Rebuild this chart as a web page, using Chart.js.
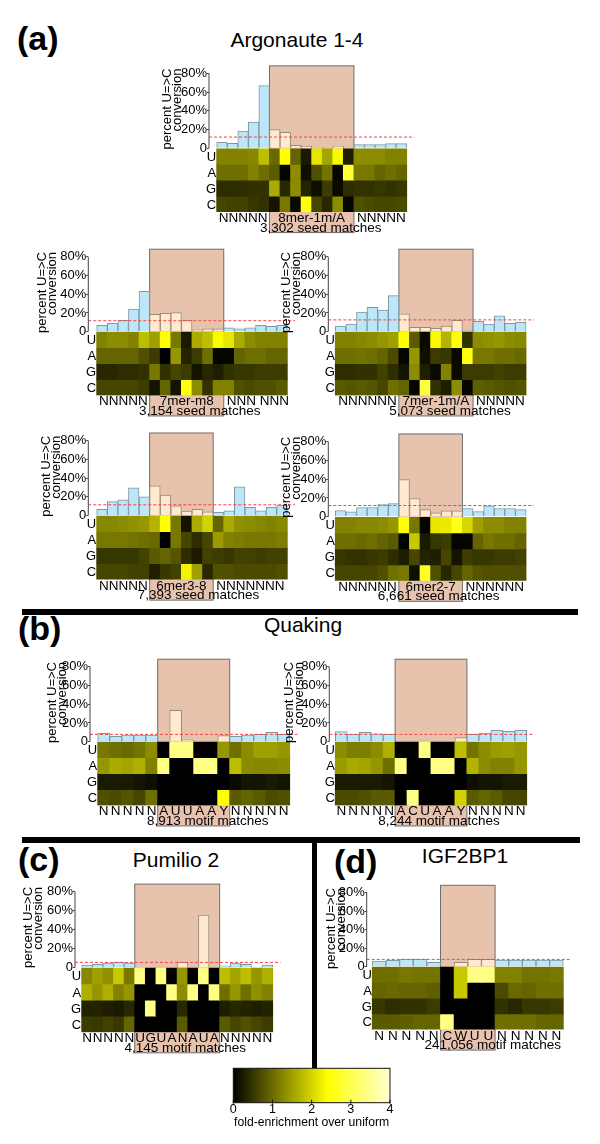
<!DOCTYPE html>
<html>
<head>
<meta charset="utf-8">
<script src="https://cdn.jsdelivr.net/npm/chart.js@4.4.1/dist/chart.umd.min.js"></script>
<style>
  html, body { margin: 0; padding: 0; background: #fff; }
  #page { position: relative; width: 600px; height: 1144px; overflow: hidden;
          font-family: "Liberation Sans", Arial, sans-serif; }
  #page canvas { position: absolute; }
  .t { position: absolute; white-space: nowrap; line-height: 1; color: #000; }
  .tag { font-weight: bold; font-size: 34px; }
  .title { font-size: 21px; width: 300px; text-align: center; }
  .rule { position: absolute; background: #000; }
</style>
</head>
<body>
<div id="page">
  <div class="t tag" style="left:17px;top:21px">(a)</div>
  <div class="t title" style="left:147px;top:29px">Argonaute 1-4</div>
  <div class="rule" style="left:22px;top:609px;width:556px;height:6px"></div>
  <div class="t tag" style="left:18px;top:611px">(b)</div>
  <div class="t title" style="left:153px;top:614px">Quaking</div>
  <div class="rule" style="left:22px;top:837px;width:558px;height:6px"></div>
  <div class="rule" style="left:312px;top:843px;width:5px;height:225px"></div>
  <div class="t tag" style="left:18px;top:842px">(c)</div>
  <div class="t title" style="left:26px;top:849px">Pumilio 2</div>
  <div class="t tag" style="left:334px;top:844px">(d)</div>
  <div class="t title" style="left:315px;top:845px">IGF2BP1</div>
</div>
<script>
// ---- data ----
const ROWS = ['U', 'A', 'G', 'C'];
const Y_TICKS = [0, 20, 40, 60, 80];
const CB_TICKS = [0, 1, 2, 3, 4];

// Argonaute 8mer-1m/A
const ago8merBars = [6.4, 5.3, 18.5, 28, 67, 20, 17, 3.2, 2.1, 1, 1, 2.5, 1, 4, 4, 4, 5, 5];
const ago8merHeat = [
  [1.22, 1.22, 1.22, 1.27, 1.79, 0.99, 2.4, 0.94, 0.24, 2.16, 1.55, 2.35, 0.28, 1.32, 1.32, 1.32, 1.22, 1.22],
  [1.04, 1.04, 1.04, 1.22, 1.04, 0.85, 0.05, 1.32, 0.14, 0.75, 1.08, 0.05, 2.8, 1.13, 1.13, 0.94, 1.04, 0.94],
  [0.42, 0.42, 0.42, 0.47, 0.47, 1.6, 0.38, 1.32, 0.33, 0.14, 0.56, 0.09, 0.42, 0.47, 0.47, 0.52, 0.47, 0.52],
  [0.66, 0.61, 0.61, 0.52, 0.47, 0.19, 1.13, 0.09, 2.5, 0.66, 0.38, 1.32, 0.05, 0.75, 0.71, 0.66, 0.66, 0.71]
];
const ago8merSeed = [5, 13];
const ago8merText = ['NNNNN', '8mer-1m/A', 'NNNNN'];
const ago8merCount = '3,302 seed matches';
const ago8merThreshold = 12;

// Argonaute 7mer-m8
const ago7m8Bars = [6.8, 8.9, 12, 24, 43, 18.5, 19.6, 20.3, 12, 2, 3, 3, 4, 3, 4, 6.8, 5.7, 6.8];
const ago7m8Heat = [
  [1.22, 1.32, 1.32, 1.22, 1.79, 1.5, 2.4, 1.13, 0.24, 1.6, 1.79, 2.35, 2.16, 1.6, 1.32, 1.22, 1.22, 1.22],
  [0.94, 0.94, 0.94, 0.94, 0.75, 0.56, 0, 1.41, 0.33, 0.56, 1.04, 0.05, 0.05, 0.94, 1.04, 1.04, 0.94, 0.94],
  [0.38, 0.38, 0.42, 0.42, 0.47, 1.13, 0.47, 0.66, 0.56, 0.19, 0.38, 0.28, 0.47, 0.52, 0.52, 0.56, 0.56, 0.56],
  [0.66, 0.66, 0.66, 0.66, 0.56, 0.19, 0.94, 0.19, 2.5, 1.32, 0.47, 1.22, 1.22, 0.75, 0.71, 0.75, 0.75, 0.85]
];
const ago7m8Seed = [5, 12];
const ago7m8Text = ['NNNNN', '7mer-m8', 'NNN NNN'];
const ago7m8Count = '3,154 seed matches';
const ago7m8Threshold = 11.7;

// Argonaute 7mer-1m/A
const ago7a1Bars = [6, 8, 21, 26, 23, 38.5, 19, 4.7, 4.7, 3.6, 6, 12, 1.4, 11, 8, 17, 9, 10];
const ago7a1Heat = [
  [1.22, 1.22, 1.27, 1.32, 1.41, 1.5, 2.4, 0.85, 0.09, 2.35, 1.69, 2.4, 0.47, 1.32, 1.36, 1.41, 1.32, 1.27],
  [1.04, 1.04, 1.08, 1.04, 0.94, 0.71, 0.05, 1.41, 0.14, 0.56, 0.52, 0.09, 2.5, 1.13, 1.13, 1.04, 1.04, 0.99],
  [0.42, 0.42, 0.47, 0.47, 0.61, 0.42, 0.19, 1.32, 0.28, 0.09, 1.22, 0.09, 0.56, 0.56, 0.56, 0.61, 0.56, 0.56],
  [0.85, 0.8, 0.85, 0.8, 0.66, 1.04, 0.94, 0.05, 2.9, 0.47, 0.28, 1.32, 0.05, 0.89, 0.85, 0.8, 0.75, 0.8]
];
const ago7a1Seed = [6, 13];
const ago7a1Text = ['NNNNNN', '7mer-1m/A', 'NNNNN'];
const ago7a1Count = '5,073 seed matches';
const ago7a1Threshold = 12.6;

// Argonaute 6mer3-8
const ago6m38Bars = [6.7, 15, 17, 29.6, 20, 31.7, 22, 10.6, 4.9, 6.7, 4.2, 3.5, 5.3, 30.6, 8.8, 5.3, 8.8, 11.3];
const ago6m38Heat = [
  [1.27, 1.27, 1.32, 1.36, 1.41, 1.69, 2.4, 1.13, 0.19, 1.6, 1.98, 0.94, 1.6, 1.36, 1.32, 1.27, 1.22, 1.27],
  [1.13, 1.13, 1.13, 1.08, 1.04, 0.99, 0, 1.13, 0.66, 0.42, 0.66, 1.46, 1.22, 1.18, 1.13, 1.13, 1.13, 1.18],
  [0.52, 0.52, 0.52, 0.52, 0.61, 0.85, 0.94, 0.8, 0.42, 0.24, 0.61, 0.56, 0.52, 0.61, 0.61, 0.56, 0.61, 0.61],
  [0.66, 0.66, 0.66, 0.61, 0.61, 0.28, 0.52, 0.61, 2.3, 1.5, 0.38, 0.75, 0.75, 0.71, 0.71, 0.71, 0.71, 0.75]
];
const ago6m38Seed = [5, 11];
const ago6m38Text = ['NNNNN', '6mer3-8', 'NNNNNNN'];
const ago6m38Count = '7,393 seed matches';
const ago6m38Threshold = 11.6;

// Argonaute 6mer2-7
const ago6m27Bars = [6.7, 5.3, 9.9, 9.9, 13, 14, 39.5, 19.4, 7.7, 4.2, 6.3, 6.3, 8.8, 5.6, 11.6, 8.8, 8.8, 7.7];
const ago6m27Heat = [
  [1.22, 1.22, 1.27, 1.27, 1.32, 1.41, 2.4, 1.13, 0.05, 2.16, 2.21, 2.6, 2.02, 1.5, 1.32, 1.32, 1.22, 1.22],
  [1.04, 1.04, 0.99, 1.04, 0.94, 0.85, 0.05, 1.88, 0.24, 0.52, 0.56, 0.05, 0.05, 0.94, 1.13, 1.04, 1.04, 0.94],
  [0.52, 0.47, 0.47, 0.52, 0.56, 0.42, 0.28, 0.66, 0.33, 0.28, 0.66, 0.19, 0.56, 0.52, 0.52, 0.56, 0.56, 0.61],
  [0.66, 0.66, 0.66, 0.66, 0.75, 1.04, 1.13, 0.14, 2.7, 0.75, 0.38, 0.66, 0.94, 0.8, 0.75, 0.75, 0.75, 0.75]
];
const ago6m27Seed = [6, 12];
const ago6m27Text = ['NNNNNN', '6mer2-7', 'NNNNNN'];
const ago6m27Count = '6,661 seed matches';
const ago6m27Threshold = 12;

// Quaking
const qkiLeftBars = [8.9, 5.7, 7, 7, 7, null, 33.5, 2, null, null, 6.4, 5.7, 7, 7.8, 10, 7.8];
const qkiLeftHeat = [
  [1.13, 1.04, 0.99, 1.08, 1.32, 0, 3.4, 3.4, 0, 0, 1.41, 1.04, 1.32, 1.5, 1.5, 1.41],
  [1.41, 1.6, 1.55, 1.65, 1.22, 3.4, 0, 0, 3.4, 3.4, 0, 1.79, 1.32, 1.27, 1.27, 1.32],
  [0.24, 0.24, 0.24, 0.19, 0.14, 0, 0, 0, 0, 0, 0, 0.09, 0.19, 0.19, 0.24, 0.19],
  [0.75, 0.71, 0.8, 0.66, 1.04, 0, 0, 0, 0, 0, 2.4, 0.85, 0.94, 0.85, 0.71, 0.75]
];
const qkiLeftSeed = [5, 11];
const qkiLeftLetters = ['N', 'N', 'N', 'N', 'N', 'A', 'U', 'U', 'A', 'A', 'Y', 'N', 'N', 'N', 'N', 'N'];
const qkiLeftCount = '8,913 motif matches';
const qkiLeftThreshold = 7.8;

const qkiRightBars = [10.7, 7.8, 10, 8.5, 7.8, null, null, 1, null, null, 4.3, 7.8, 9.3, 12, 11, 12];
const qkiRightHeat = [
  [1.32, 1.18, 1.18, 1.32, 1.65, 0, 0, 3.4, 0, 0, 1.79, 1.08, 1.32, 1.46, 1.5, 1.41],
  [1.46, 1.6, 1.55, 1.41, 1.04, 3.4, 0, 0, 3.4, 3.4, 0, 1.69, 1.32, 1.22, 1.22, 1.41],
  [0.24, 0.24, 0.24, 0.24, 0.19, 0, 0, 0, 0, 0, 0, 0.14, 0.19, 0.19, 0.24, 0.24],
  [0.71, 0.71, 0.75, 0.85, 0.85, 0, 3.4, 0, 0, 0, 1.98, 0.85, 0.94, 0.85, 0.66, 0.66]
];
const qkiRightSeed = [5, 11];
const qkiRightLetters = ['N', 'N', 'N', 'N', 'N', 'A', 'C', 'U', 'A', 'A', 'Y', 'N', 'N', 'N', 'N', 'N'];
const qkiRightCount = '8,244 motif matches';
const qkiRightThreshold = 7.8;

// Pumilio 2
const pumBars = [2.8, 3.5, 4.9, 5.6, 4.9, 0.5, null, 0.5, null, 5.6, null, 55.4, null, 2.1, 4.9, 3.5, 0.7, 2.8];
const pumHeat = [
  [1.27, 1.5, 1.36, 1.88, 1.13, 3.4, 0, 3.4, 0, 1.41, 0, 3.4, 0, 1.79, 1.55, 1.79, 1.41, 1.65],
  [1.65, 1.41, 1.65, 1.22, 1.41, 0, 0, 0, 3.4, 1.32, 3.4, 0, 3.4, 1.04, 1.41, 1.04, 1.36, 1.22],
  [0.33, 0.33, 0.28, 0.24, 0.38, 0, 3.4, 0, 0, 0.38, 0, 0, 0, 0.28, 0.38, 0.33, 0.28, 0.33],
  [0.56, 0.52, 0.61, 0.52, 0.94, 0, 0, 0, 0, 0.85, 0, 0, 0, 0.85, 0.66, 0.75, 0.66, 0.56]
];
const pumSeed = [5, 13];
const pumLetters = ['N', 'N', 'N', 'N', 'N', 'U', 'G', 'U', 'A', 'N', 'A', 'U', 'A', 'N', 'N', 'N', 'N', 'N'];
const pumCount = '4,145 motif matches';
const pumThreshold = 5.6;

// IGF2BP1
const igfBars = [6.1, 6.8, 8.3, 8.3, 4.7, null, 4.7, 7.9, 7.9, 7.2, 7.2, 7.2, 7.2, 7.2];
const igfHeat = [
  [1.04, 1.04, 1.13, 1.08, 1.08, 0, 1.88, 3.4, 3.4, 1.22, 1.22, 1.08, 1.08, 1.13],
  [0.94, 0.99, 0.94, 0.94, 0.89, 0, 1.88, 0, 0, 0.71, 0.99, 0.94, 1.04, 1.04],
  [0.52, 0.42, 0.47, 0.47, 0.56, 0, 0, 0, 0, 0.47, 0.38, 0.52, 0.52, 0.56],
  [0.85, 0.85, 0.89, 0.94, 0.94, 3.4, 0, 0, 0, 1.04, 1.04, 1.04, 0.94, 0.94]
];
const igfSeed = [5, 9];
const igfLetters = ['N', 'N', 'N', 'N', 'N', 'C', 'W', 'U', 'U', 'N', 'N', 'N', 'N', 'N'];
const igfCount = '241,056 motif matches';
const igfThreshold = 7.9;

// ---- style / layout ----
const FONT = '"Liberation Sans", Arial, sans-serif';
const BLUE = '#bde6f8', BLUE_EDGE = '#7d97a3';
const BEIGE = '#ffead0', BEIGE_EDGE = '#9b8a78';
const PINK = '#e7c3ae', PINK_EDGE = '#6e6e6e';
const Y_MAX = 85, Y_MIN = -68, ROW_H = 17, SEED_TOP = 88;
const EXT = 8, LABEL_DROP = 20.5;

Chart.defaults.font.family = FONT;
Chart.defaults.color = '#000';

function foldColor(v) {
  if (v <= 2.4) {
    const c = Math.round(255 * v / 2.4);
    return `rgb(${c},${c},0)`;
  }
  const b = Math.round(Math.min(1, (v - 2.4) / 1.6) * 210);
  return `rgb(255,255,${b})`;
}

const panels = [
  { bars: ago8merBars, heat: ago8merHeat, seed: ago8merSeed, groups: ago8merText, count: ago8merCount, thr: ago8merThreshold,
    axisX: 209, heatLeft: 216.7, heatRight: 406.7, y80: 73.3, y0: 148.3, W: 47.2, countDx: 9 },
  { bars: ago7m8Bars, heat: ago7m8Heat, seed: ago7m8Seed, groups: ago7m8Text, count: ago7m8Count, thr: ago7m8Threshold,
    axisX: 88.3, heatLeft: 96.7, heatRight: 287.3, y80: 256.7, y0: 331.7, W: 51.8, countDx: 13 },
  { bars: ago7a1Bars, heat: ago7a1Heat, seed: ago7a1Seed, groups: ago7a1Text, count: ago7a1Count, thr: ago7a1Threshold,
    axisX: 328.3, heatLeft: 335.3, heatRight: 526, y80: 256.7, y0: 331.7, W: 47.7, countDx: 14 },
  { bars: ago6m38Bars, heat: ago6m38Heat, seed: ago6m38Seed, groups: ago6m38Text, count: ago6m38Count, thr: ago6m38Threshold,
    axisX: 88.3, heatLeft: 96.7, heatRight: 287.3, y80: 440.5, y0: 515.7, W: 47.8, countDx: 17 },
  { bars: ago6m27Bars, heat: ago6m27Heat, seed: ago6m27Seed, groups: ago6m27Text, count: ago6m27Count, thr: ago6m27Threshold,
    axisX: 328.3, heatLeft: 335.3, heatRight: 526, y80: 441.5, y0: 516.8, W: 47.5, countDx: 8 },
  { bars: qkiLeftBars, heat: qkiLeftHeat, seed: qkiLeftSeed, letters: qkiLeftLetters, count: qkiLeftCount, thr: qkiLeftThreshold,
    axisX: 90, heatLeft: 97.7, heatRight: 289.7, y80: 666.7, y0: 741.7, W: 43.5, countDx: 14 },
  { bars: qkiRightBars, heat: qkiRightHeat, seed: qkiRightSeed, letters: qkiRightLetters, count: qkiRightCount, thr: qkiRightThreshold,
    axisX: 329.3, heatLeft: 335.3, heatRight: 526.7, y80: 666.7, y0: 741.7, W: 45.2, countDx: 8 },
  { bars: pumBars, heat: pumHeat, seed: pumSeed, letters: pumLetters, count: pumCount, thr: pumThreshold,
    axisX: 75, heatLeft: 81.7, heatRight: 272.7, y80: 891.7, y0: 967.7, W: 51.9, countDx: 8 },
  { bars: igfBars, heat: igfHeat, seed: igfSeed, letters: igfLetters, count: igfCount, thr: igfThreshold,
    axisX: 366.7, heatLeft: 372.3, heatRight: 563.3, y80: 892.7, y0: 966.7, W: 40.9, countDx: 25 }
];

const page = document.getElementById('page');

function makePanel(p) {
  const n = p.bars.length;
  const colW = (p.heatRight - p.heatLeft) / n;
  const xMin = -(p.heatLeft - p.axisX) / colW;
  const xMax = n + EXT / colW;
  const ppu = (p.y0 - p.y80) / 80;
  const chartTop = p.y0 - Y_MAX * ppu;
  const chartBottom = p.y0 - Y_MIN * ppu;
  const canvasTop = Math.floor(chartTop - 12);
  const canvasH = Math.ceil(chartBottom + 26) - canvasTop;
  const canvasLeft = Math.round(p.axisX - p.W);
  const yW = p.axisX - canvasLeft;
  const chartRight = p.heatRight + EXT;
  const canvasW = Math.ceil(chartRight + 4) - canvasLeft;

  const cv = document.createElement('canvas');
  cv.width = canvasW; cv.height = canvasH;
  cv.style.left = canvasLeft + 'px'; cv.style.top = canvasTop + 'px';
  cv.style.width = canvasW + 'px'; cv.style.height = canvasH + 'px';
  page.appendChild(cv);

  const inSeed = i => i >= p.seed[0] && i < p.seed[1];
  const datasets = [{
    type: 'line',
    data: [{ x: xMin, y: p.thr }, { x: xMax, y: p.thr }],
    borderColor: '#ff4040', borderWidth: 1, borderDash: [3, 2],
    pointRadius: 0, order: 1
  }, {
    data: p.bars.map((v, i) => ({ x: i + 0.5, y: v })),
    backgroundColor: p.bars.map((v, i) => inSeed(i) ? BEIGE : BLUE),
    borderColor: p.bars.map((v, i) => inSeed(i) ? BEIGE_EDGE : BLUE_EDGE),
    borderWidth: 1, grouped: false, barThickness: colW, order: 2
  }];
  ROWS.forEach((r, ri) => {
    datasets.push({
      data: p.heat[ri].map((v, i) => ({ x: i + 0.5, y: [-(ri + 1) * ROW_H, -ri * ROW_H] })),
      backgroundColor: p.heat[ri].map(foldColor),
      borderWidth: 0, grouped: false, barThickness: colW, inflateAmount: 0.4, order: 3
    });
  });

  const deco = {
    id: 'deco',
    beforeDatasetsDraw(chart) {
      const { ctx, scales: { x, y } } = chart;
      const x0 = x.getPixelForValue(p.seed[0]), x1 = x.getPixelForValue(p.seed[1]);
      const yT = y.getPixelForValue(SEED_TOP), yB = y.getPixelForValue(Y_MIN) + LABEL_DROP;
      ctx.save();
      ctx.fillStyle = PINK;
      ctx.fillRect(x0, yT, x1 - x0, yB - yT);
      ctx.strokeStyle = PINK_EDGE; ctx.lineWidth = 1;
      ctx.strokeRect(x0, yT, x1 - x0, yB - yT);
      ctx.restore();
    },
    afterDraw(chart) {
      const { ctx, chartArea, scales: { x, y } } = chart;
      ctx.save();
      // axis line for the percent scale only
      ctx.strokeStyle = '#444'; ctx.lineWidth = 1;
      ctx.beginPath();
      ctx.moveTo(chartArea.left, y.getPixelForValue(Y_TICKS[0]));
      ctx.lineTo(chartArea.left, y.getPixelForValue(Y_TICKS[Y_TICKS.length - 1]));
      ctx.stroke();
      ctx.fillStyle = '#000';
      ctx.font = `13px ${FONT}`;
      ctx.textAlign = 'right'; ctx.textBaseline = 'middle';
      const hx = x.getPixelForValue(0);
      ROWS.forEach((r, ri) => ctx.fillText(r, hx - 0.5, y.getPixelForValue(-(ri + 0.5) * ROW_H) + 1));
      const hb = y.getPixelForValue(Y_MIN);
      const x0 = x.getPixelForValue(p.seed[0]), x1 = x.getPixelForValue(p.seed[1]);
      ctx.font = `13.5px ${FONT}`;
      ctx.textBaseline = 'alphabetic';
      if (p.groups) {
        ctx.textAlign = 'right'; ctx.fillText(p.groups[0], x0 - 2, hb + 10);
        ctx.textAlign = 'center'; ctx.fillText(p.groups[1], (x0 + x1) / 2, hb + 10);
        ctx.textAlign = 'left'; ctx.fillText(p.groups[2], x1 + 3, hb + 10);
      } else {
        ctx.textAlign = 'center';
        p.letters.forEach((l, i) => ctx.fillText(l, x.getPixelForValue(i + 0.5), hb + 10));
      }
      ctx.textAlign = 'center';
      ctx.fillText(p.count, (x0 + x1) / 2 + p.countDx, hb + 19.5);
      ctx.restore();
    }
  };

  new Chart(cv, {
    type: 'bar',
    data: { datasets },
    options: {
      responsive: false, animation: false, events: [],
      layout: { padding: { left: 0, top: chartTop - canvasTop, right: canvasLeft + canvasW - chartRight,
                           bottom: canvasTop + canvasH - chartBottom } },
      plugins: { legend: { display: false }, tooltip: { enabled: false } },
      scales: {
        x: { type: 'linear', min: xMin, max: xMax, offset: false, grid: { offset: false }, display: false },
        y: {
          min: Y_MIN, max: Y_MAX,
          afterBuildTicks: s => { s.ticks = Y_TICKS.map(v => ({ value: v })); },
          afterFit: s => { s.width = yW; },
          ticks: { callback: v => v === 0 ? '0' : v + '%', font: { size: 13 }, color: '#000', padding: 0, autoSkip: false },
          grid: { drawOnChartArea: false, tickLength: 2, color: '#444' },
          border: { display: false },
          title: { display: true, text: ['percent U=>C', 'conversion'], align: 'end', padding: 0,
                   font: { size: 13, lineHeight: 0.78 }, color: '#000' }
        }
      }
    },
    plugins: [deco]
  });
}

panels.forEach(makePanel);

// ---- colour key ----
(function () {
  const area = { left: 233.3, right: 390, top: 1068.3, bottom: 1102.7 };
  const cLeft = 213, cTop = 1060, cW = 200, cH = 76;
  const cv = document.createElement('canvas');
  cv.width = cW; cv.height = cH;
  cv.style.left = cLeft + 'px'; cv.style.top = cTop + 'px';
  cv.style.width = cW + 'px'; cv.style.height = cH + 'px';
  page.appendChild(cv);
  const axisH = 26;
  const key = {
    id: 'key',
    beforeDraw(chart) {
      const { ctx, chartArea: a, scales: { x } } = chart;
      const g = ctx.createLinearGradient(a.left, 0, a.right, 0);
      [0, 0.6, 1].forEach(f => g.addColorStop(f, foldColor(f * CB_TICKS[CB_TICKS.length - 1])));
      ctx.save();
      ctx.fillStyle = g;
      ctx.fillRect(a.left, a.top, a.right - a.left, a.bottom - a.top);
      ctx.strokeStyle = '#111'; ctx.lineWidth = 1;
      ctx.strokeRect(a.left, a.top, a.right - a.left, a.bottom - a.top);
      ctx.beginPath();
      CB_TICKS.forEach(t => { const px = x.getPixelForValue(t); ctx.moveTo(px, a.bottom - 3); ctx.lineTo(px, a.bottom + 1); });
      ctx.stroke();
      ctx.restore();
    }
  };
  new Chart(cv, {
    type: 'bar',
    data: { datasets: [] },
    options: {
      responsive: false, animation: false, events: [],
      layout: { padding: { left: area.left - cLeft, right: cLeft + cW - area.right, top: area.top - cTop,
                           bottom: cTop + cH - area.bottom - axisH } },
      plugins: { legend: { display: false }, tooltip: { enabled: false } },
      scales: {
        x: {
          type: 'linear', min: CB_TICKS[0], max: CB_TICKS[CB_TICKS.length - 1], offset: false,
          afterBuildTicks: s => { s.ticks = CB_TICKS.map(v => ({ value: v })); },
          afterFit: s => { s.height = axisH; },
          ticks: { font: { size: 12.5, lineHeight: 1 }, color: '#000', padding: 1 },
          grid: { display: false, drawTicks: false, offset: false }, border: { display: false },
          title: { display: true, text: 'fold-enrichment over uniform', padding: 0, font: { size: 12.2, lineHeight: 1 }, color: '#000' }
        },
        y: { display: false }
      }
    },
    plugins: [key]
  });
})();
</script>
</body>
</html>
